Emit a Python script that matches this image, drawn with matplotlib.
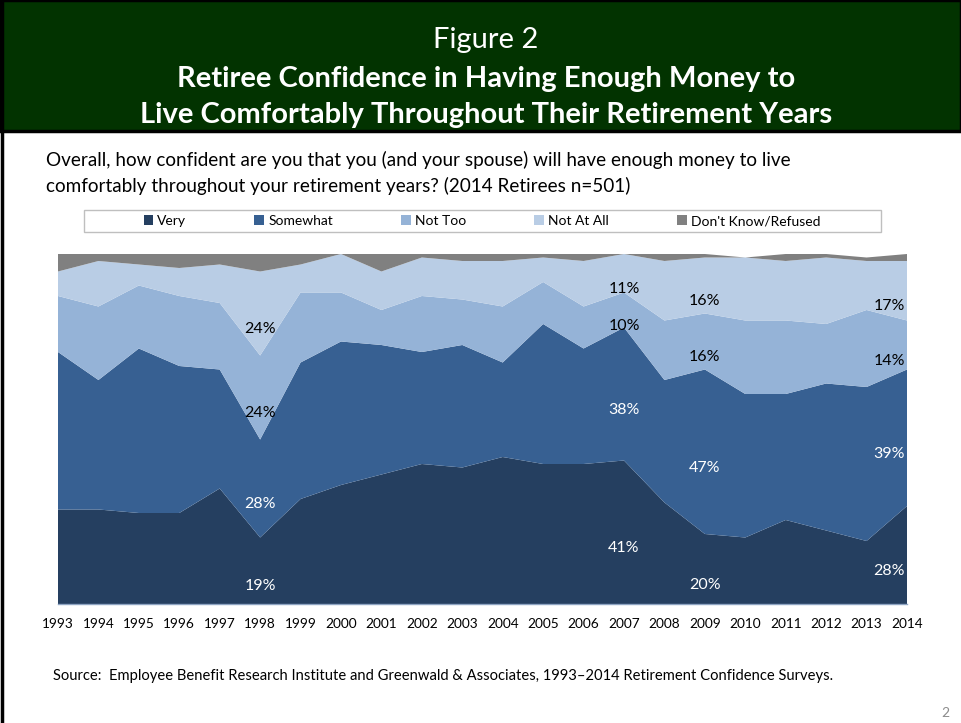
#!/usr/bin/env python3
import numpy as np
from matplotlib import pyplot as plt
from matplotlib.patches import Rectangle, Patch
from matplotlib.lines import Line2D

#%%
years = list(range(1993, 2015))
very = [27, 27, 26, 26, 33, 19, 30, 34, 37, 40, 39, 42, 40, 40, 41, 29, 20, 19, 24, 21, 18, 28]
somewhat = [45, 37, 47, 42, 34, 28, 39, 41, 37, 32, 35, 27, 40, 33, 38, 35, 47, 41, 36, 42, 44, 39]
not_too = [16, 21, 18, 20, 19, 24, 20, 14, 10, 16, 13, 16, 12, 12, 10, 17, 16, 21, 21, 17, 22, 14]
not_at_all = [7, 13, 6, 8, 11, 24, 8, 11, 11, 11, 11, 13, 7, 13, 11, 17, 16, 18, 17, 19, 14, 17]
dont_know = [5, 2, 3, 4, 3, 5, 3, 0, 5, 1, 2, 2, 1, 2, 0, 2, 1, 0, 2, 1, 1, 2]

series_names = ['Very', 'Somewhat', 'Not Too', 'Not At All', "Don't Know/Refused"]
colors = ['#253F60', '#376092', '#95B3D7', '#B9CDE5', '#808080']
label_years = [1998, 2007, 2009, 2014]

FONT = ['Lato', 'DejaVu Sans']
plt.rcParams['font.family'] = FONT

#%%
fig = plt.figure(figsize=(9.61, 7.23), dpi=100)
W, H = 961, 723

def fx(px):
    return px / W

def fy(py):
    return 1 - py / H

# header band
fig.patches.append(Rectangle((0, fy(131)), 1, 131 / H, transform=fig.transFigure,
                             facecolor='#023300', edgecolor='black', lw=2.5, zorder=0))
# slide left border
fig.add_artist(Line2D([fx(1.5), fx(1.5)], [0, 1], color='black', lw=2.5))

fig.text(fx(486), fy(40), 'Figure 2', color='white', fontsize=21, ha='center', va='center')
fig.text(fx(486), fy(79), 'Retiree Confidence in Having Enough Money to', color='white',
         fontsize=21, fontweight='bold', ha='center', va='center')
fig.text(fx(486), fy(115), 'Live Comfortably Throughout Their Retirement Years', color='white',
         fontsize=21, fontweight='bold', ha='center', va='center')

fig.text(fx(46), fy(160), 'Overall, how confident are you that you (and your spouse) will have enough money to live',
         fontsize=13.6, ha='left', va='center')
fig.text(fx(46), fy(186), 'comfortably throughout your retirement years? (2014 Retirees n=501)',
         fontsize=13.6, ha='left', va='center')

#%%
ax = fig.add_axes([fx(58), fy(604), fx(907) - fx(58), (604 - 254) / H])
stack = [very, somewhat, not_too, not_at_all, dont_know]
ax.stackplot(years, *stack, colors=colors, edgecolor='none', lw=0)
ax.set_xlim(1993, 2014)
ax.set_ylim(0, 100)
ax.set_yticks([])
ax.set_xticks(years)
ax.set_xticklabels([str(y) for y in years], fontsize=9.8)
ax.tick_params(axis='x', length=0, pad=10)
for s in ['top', 'right', 'left']:
    ax.spines[s].set_visible(False)
ax.spines['bottom'].set_color('#8EA4C2')
ax.spines['bottom'].set_linewidth(1)

# data labels
arr = np.array(stack, dtype=float)
cum = np.cumsum(arr, axis=0)
for yr in label_years:
    i = years.index(yr)
    for k in range(4):
        lo = cum[k - 1, i] if k > 0 else 0
        hi = cum[k, i]
        mid = (lo + hi) / 2 - 4.5
        col = 'white' if k < 2 else 'black'
        if yr == years[-1]:
            ax.text(yr - 0.05, mid, f'{int(arr[k, i])}%', color=col, fontsize=11.5,
                    ha='right', va='center')
        else:
            ax.text(yr, mid, f'{int(arr[k, i])}%', color=col, fontsize=11.5,
                    ha='center', va='center')

#%%
# legend box
fig.patches.append(Rectangle((fx(84), fy(232)), fx(881) - fx(84), 22 / H, transform=fig.transFigure,
                             facecolor='white', edgecolor='#BFBFBF', lw=1))
handles = [Patch(facecolor=c, edgecolor='none') for c in colors]
fig.legend(handles, series_names, loc='center', bbox_to_anchor=(fx(482), fy(221)),
           ncol=5, frameon=False, fontsize=10, handlelength=0.7, handleheight=0.7,
           handletextpad=0.3, columnspacing=4.9)

fig.text(fx(53), fy(676), 'Source:  Employee Benefit Research Institute and Greenwald & Associates, 1993\u20132014 Retirement Confidence Surveys.',
         fontsize=10.6, ha='left', va='center')
fig.text(fx(945), fy(713), '2', color='#8C8C8C', fontsize=10, ha='center', va='center')

fig.savefig('out.png', dpi=100)
